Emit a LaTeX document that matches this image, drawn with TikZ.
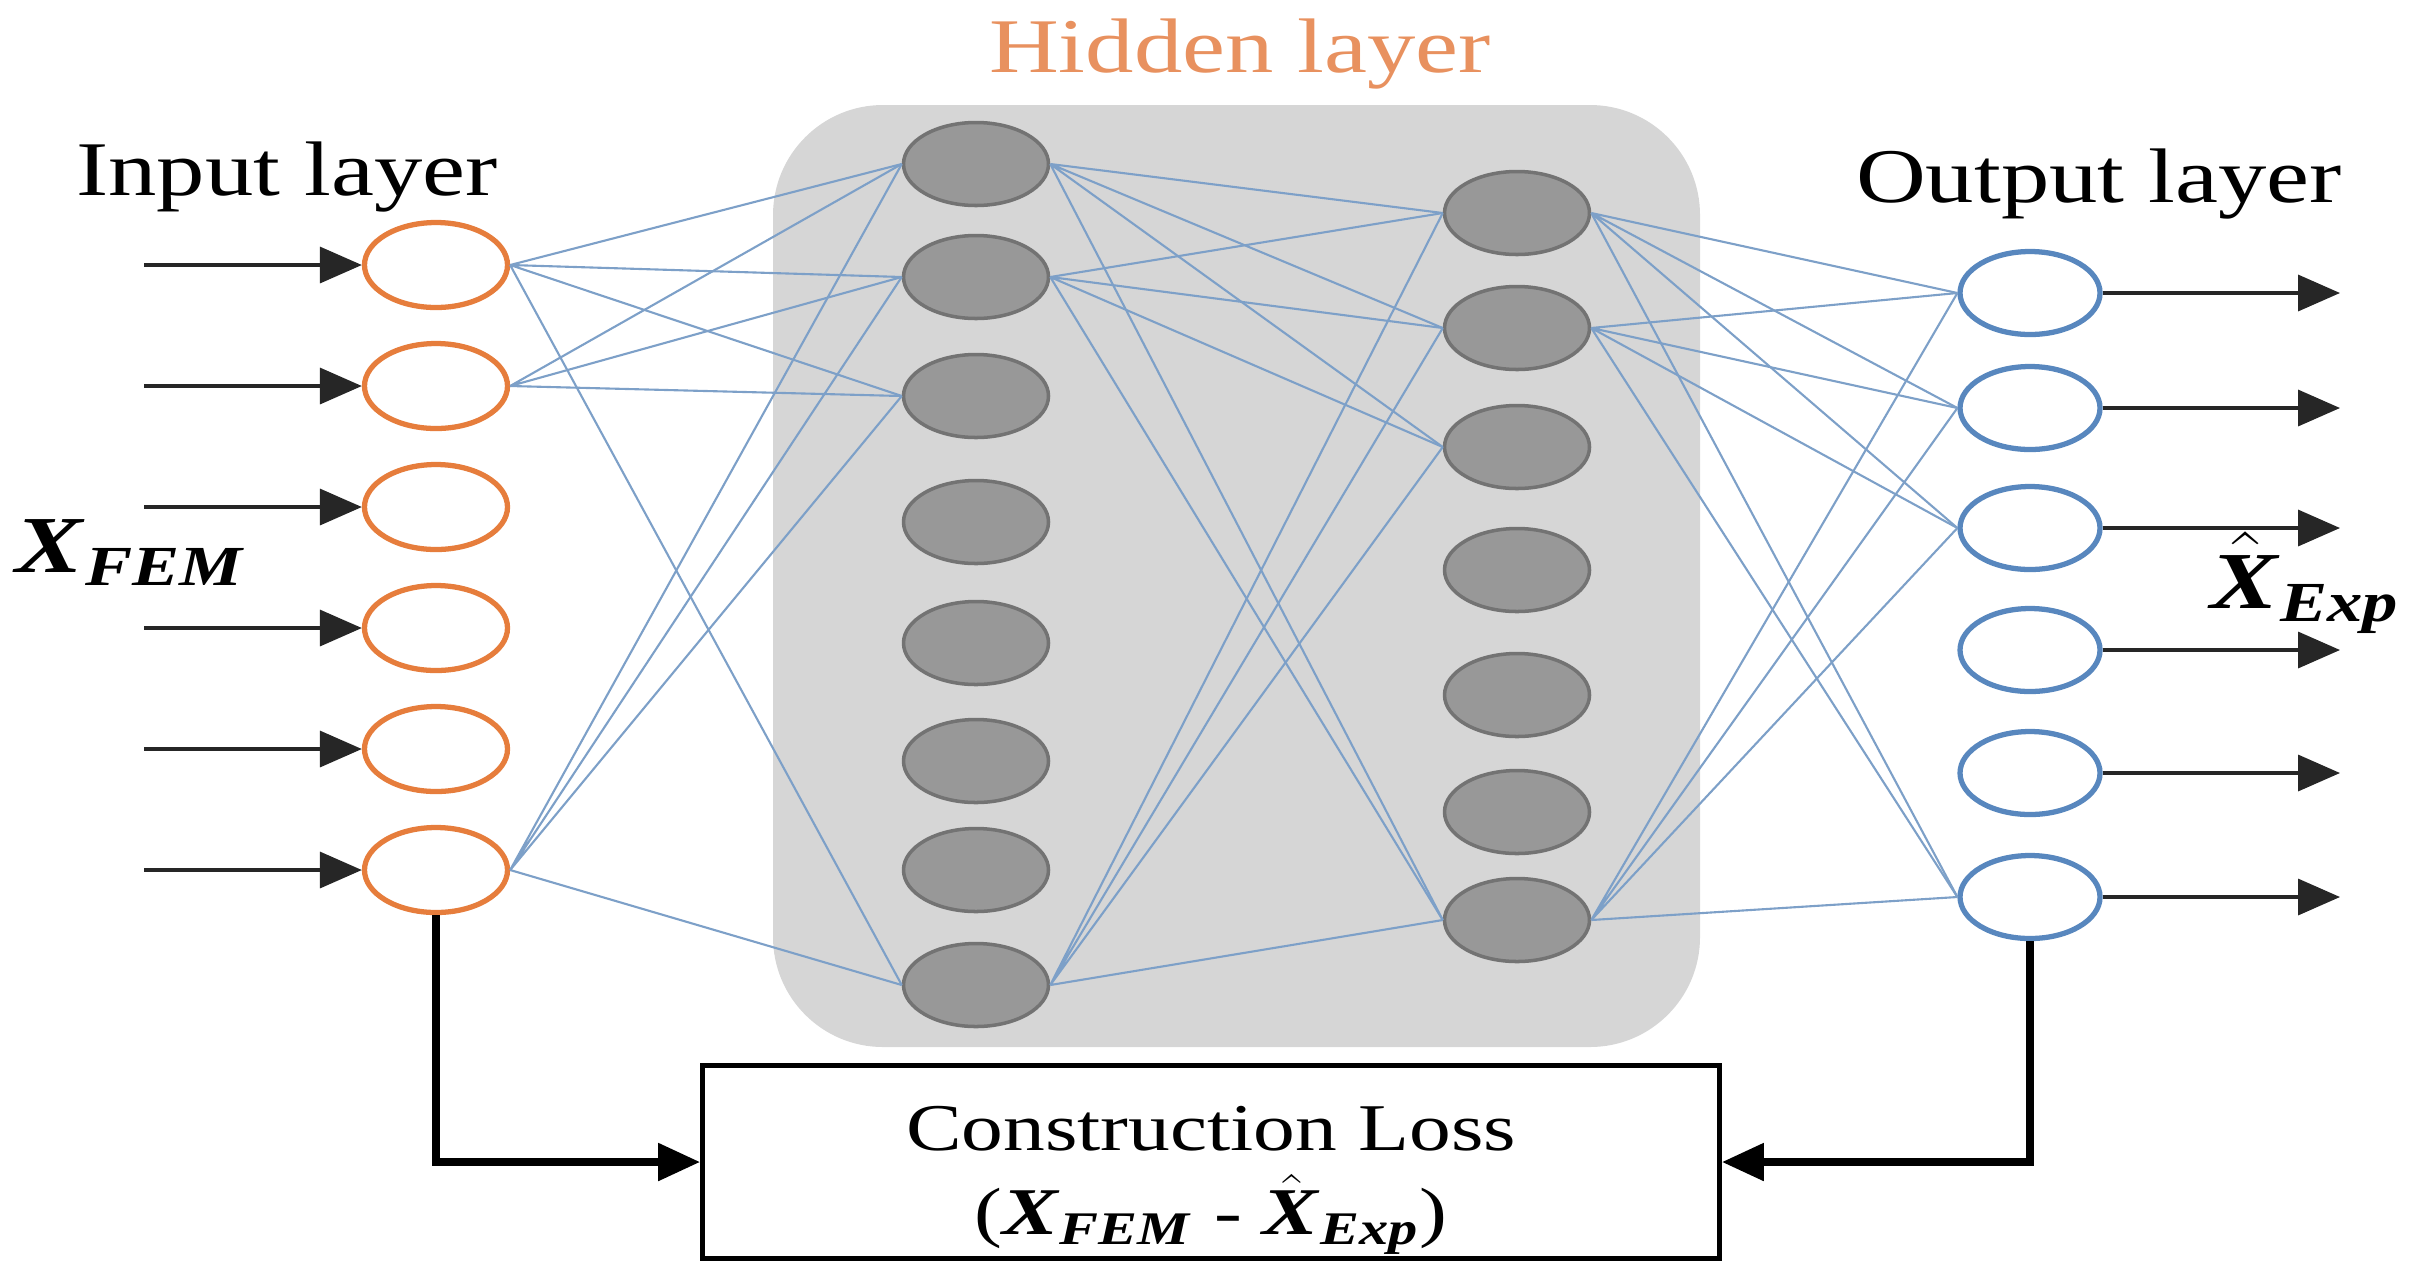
\documentclass[tikz,border=0pt]{standalone}
\usepackage{amsmath}
\usepackage{fontspec}
\setmainfont{Liberation Serif}
\usepackage{graphicx}
\usetikzlibrary{arrows.meta,shapes.geometric}

\definecolor{inorange}{RGB}{230,125,60}
\definecolor{hidorange}{RGB}{232,145,95}
\definecolor{outblue}{RGB}{88,135,190}
\definecolor{linkblue}{RGB}{125,160,200}
\definecolor{boxgray}{RGB}{214,214,214}
\definecolor{nodegray}{RGB}{152,152,152}

\newcommand{\wtxt}[1]{\scalebox{1.25}[1]{#1}}
\newcommand{\bi}[1]{\textbf{\textit{#1}}}

\begin{document}
\begin{tikzpicture}[
    every node/.style={inner sep=0pt},
    lbl/.style={font=\fontsize{22}{26}\selectfont},
    mathlbl/.style={font=\fontsize{23}{27}\selectfont},
    inunit/.style={ellipse, draw=inorange, line width=1.5pt, fill=white, minimum width=1.43cm, minimum height=0.85cm},
    hidunit/.style={ellipse, draw=black!55, line width=1pt, fill=nodegray, minimum width=1.45cm, minimum height=0.83cm},
    outunit/.style={ellipse, draw=outblue, line width=1.5pt, fill=white, minimum width=1.40cm, minimum height=0.83cm},
    lossbox/.style={rectangle, draw=black, line width=1.3pt, fill=white, minimum width=10.17cm, minimum height=1.93cm},
    losstext/.style={align=center, font=\fontsize{19}{24}\selectfont},
    link/.style={linkblue, line width=0.6pt},
    ioarr/.style={-{Triangle[length=0.42cm,width=0.36cm]}, black!85, line width=1pt},
    lossarr/.style={-{Triangle[length=0.42cm,width=0.36cm]}, black, line width=2.3pt}
]
\useasboundingbox (0,0) rectangle (24.23,-12.81);

% hidden block
\node[fill=boxgray, rounded corners=1.1cm, minimum width=9.27cm, minimum height=9.42cm] (hidbox) at (12.365,-5.76) {};

% input layer
\node[inunit] (i1) at (4.36,-2.65) {};
\node[inunit] (i2) at (4.36,-3.86) {};
\node[inunit] (i3) at (4.36,-5.07) {};
\node[inunit] (i4) at (4.36,-6.28) {};
\node[inunit] (i5) at (4.36,-7.49) {};
\node[inunit] (i6) at (4.36,-8.70) {};

% hidden layers
\node[hidunit] (h1) at (9.76,-1.64) {};
\node[hidunit] (h2) at (9.76,-2.77) {};
\node[hidunit] (h3) at (9.76,-3.96) {};
\node[hidunit] (h4) at (9.76,-5.22) {};
\node[hidunit] (h5) at (9.76,-6.43) {};
\node[hidunit] (h6) at (9.76,-7.61) {};
\node[hidunit] (h7) at (9.76,-8.70) {};
\node[hidunit] (h8) at (9.76,-9.85) {};

\node[hidunit] (g1) at (15.17,-2.13) {};
\node[hidunit] (g2) at (15.17,-3.28) {};
\node[hidunit] (g3) at (15.17,-4.47) {};
\node[hidunit] (g4) at (15.17,-5.70) {};
\node[hidunit] (g5) at (15.17,-6.95) {};
\node[hidunit] (g6) at (15.17,-8.12) {};
\node[hidunit] (g7) at (15.17,-9.20) {};

% output layer
\node[outunit] (o1) at (20.30,-2.93) {};
\node[outunit] (o2) at (20.30,-4.08) {};
\node[outunit] (o3) at (20.30,-5.28) {};
\node[outunit] (o4) at (20.30,-6.50) {};
\node[outunit] (o5) at (20.30,-7.73) {};
\node[outunit] (o6) at (20.30,-8.97) {};

% labels
\node[lbl, anchor=base] (inlbl) at (2.87,-1.95) {\wtxt{Input layer}};
\node[lbl, anchor=base, text=hidorange] (hidlbl) at (12.40,-0.72) {\wtxt{Hidden layer}};
\node[lbl, anchor=base] (outlbl) at (20.99,-2.02) {\wtxt{Output layer}};
\node[mathlbl, anchor=base west] (xfem) at (0.15,-5.72) {\wtxt{$\bi{X}_{\bi{FEM}}$}};
\node[mathlbl, anchor=base west] (xexp) at (22.10,-6.08) {\wtxt{$\hat{\bi{X}}_{\bi{Exp}}$}};

\node[lossbox] (loss) at (12.11,-11.62) {};
\node[losstext] (losslbl) at (12.11,-11.80) {\wtxt{Construction Loss}\\\wtxt{($\bi{X}_{\bi{FEM}}$ - $\hat{\bi{X}}_{\bi{Exp}}$)}};

% weights
\draw[link] (i1.east) -- (h1.west) (i1.east) -- (h2.west) (i1.east) -- (h3.west) (i1.east) -- (h8.west);
\draw[link] (i2.east) -- (h1.west) (i2.east) -- (h2.west) (i2.east) -- (h3.west);
\draw[link] (i6.east) -- (h1.west) (i6.east) -- (h2.west) (i6.east) -- (h3.west) (i6.east) -- (h8.west);

\draw[link] (h1.east) -- (g1.west) (h1.east) -- (g2.west) (h1.east) -- (g3.west) (h1.east) -- (g7.west);
\draw[link] (h2.east) -- (g1.west) (h2.east) -- (g2.west) (h2.east) -- (g3.west) (h2.east) -- (g7.west);
\draw[link] (h8.east) -- (g1.west) (h8.east) -- (g2.west) (h8.east) -- (g3.west) (h8.east) -- (g7.west);

\draw[link] (g1.east) -- (o1.west) (g1.east) -- (o2.west) (g1.east) -- (o3.west) (g1.east) -- (o6.west);
\draw[link] (g2.east) -- (o1.west) (g2.east) -- (o2.west) (g2.east) -- (o3.west) (g2.east) -- (o6.west);
\draw[link] (g7.east) -- (o1.west) (g7.east) -- (o2.west) (g7.east) -- (o3.west) (g7.east) -- (o6.west);

% inputs and outputs
\coordinate (a1) at (1.44,-2.65);
\coordinate (a2) at (1.44,-3.86);
\coordinate (a3) at (1.44,-5.07);
\coordinate (a4) at (1.44,-6.28);
\coordinate (a5) at (1.44,-7.49);
\coordinate (a6) at (1.44,-8.70);
\coordinate (b1) at (23.40,-2.93);
\coordinate (b2) at (23.40,-4.08);
\coordinate (b3) at (23.40,-5.28);
\coordinate (b4) at (23.40,-6.50);
\coordinate (b5) at (23.40,-7.73);
\coordinate (b6) at (23.40,-8.97);

\draw[ioarr] (a1) -- (i1.west);
\draw[ioarr] (a2) -- (i2.west);
\draw[ioarr] (a3) -- (i3.west);
\draw[ioarr] (a4) -- (i4.west);
\draw[ioarr] (a5) -- (i5.west);
\draw[ioarr] (a6) -- (i6.west);
\draw[ioarr] (o1.east) -- (b1);
\draw[ioarr] (o2.east) -- (b2);
\draw[ioarr] (o3.east) -- (b3);
\draw[ioarr] (o4.east) -- (b4);
\draw[ioarr] (o5.east) -- (b5);
\draw[ioarr] (o6.east) -- (b6);

% loss
\draw[lossarr] (i6.south) |- (loss.west);
\draw[lossarr] (o6.south) |- (loss.east);
\end{tikzpicture}
\end{document}
